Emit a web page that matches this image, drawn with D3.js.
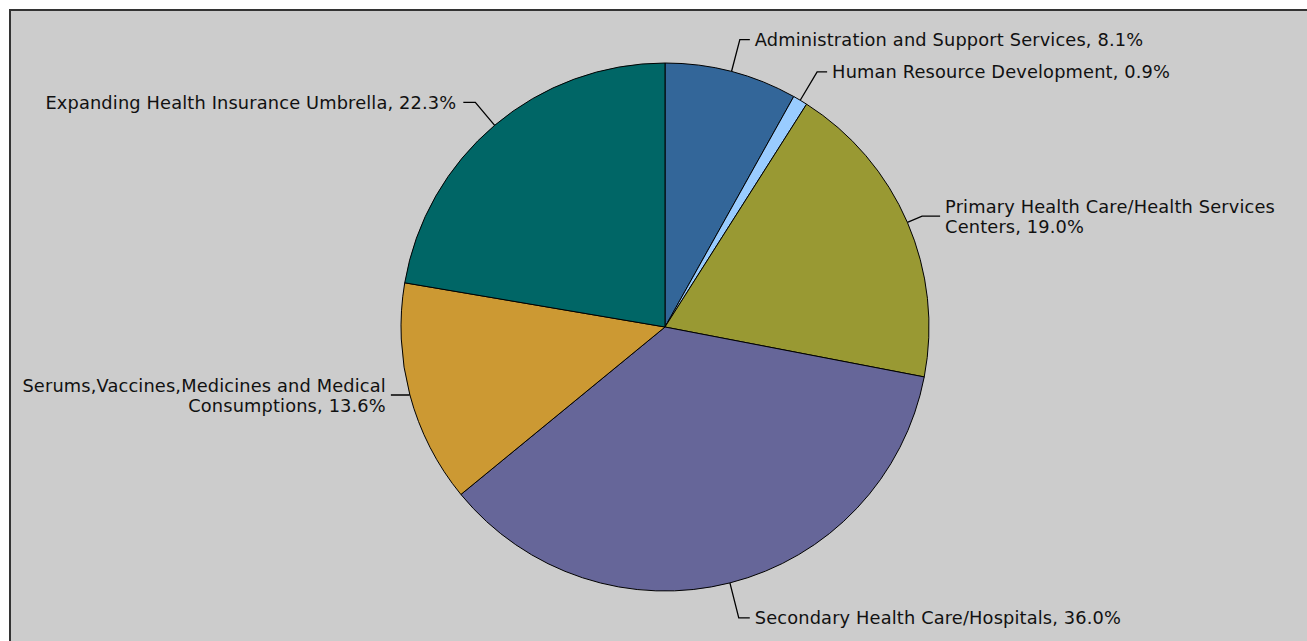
<!DOCTYPE html>
<html>
<head>
<meta charset="utf-8">
<script src="https://cdn.jsdelivr.net/npm/d3@7"></script>
<style>
  html, body { margin: 0; padding: 0; background: #ffffff; }
  svg { display: block; }
</style>
</head>
<body>
<svg id="chart" width="1307" height="641"></svg>
<script>
// ---- data ----
const categories = [
  "Administration and Support Services",
  "Human Resource Development",
  "Primary Health Care/Health Services Centers",
  "Secondary Health Care/Hospitals",
  "Serums,Vaccines,Medicines and Medical Consumptions",
  "Expanding Health Insurance Umbrella"
];
const values = [8.1, 0.9, 19.0, 36.0, 13.6, 22.3];
const colors = ["#336699", "#99ccff", "#999933", "#666699", "#cc9933", "#006666"];

// ---- label leader layout (style only) ----
const elbowExtra = [33, 33, 16, 36, 1, 30];
const hLen = [10, 10, 18, 11, 18, 12];
const gaps = [5, 5, 5, 5, 5, 7];

const W = 1307, H = 641;
const cx = 665, cy = 327, R = 264;
const fontSize = 17.8, lineH = 20, letterSp = 0.15;

const svg = d3.select("#chart");

svg.append("rect")
  .attr("x", 10).attr("y", 10)
  .attr("width", W + 10).attr("height", H + 10)
  .attr("fill", "#cccccc")
  .attr("stroke", "#333333")
  .attr("stroke-width", 2);

const data = categories.map((c, i) => ({ name: c, value: values[i], color: colors[i], i }));

const pie = d3.pie().sort(null).value(d => d.value);
const arcs = pie(data);
const arc = d3.arc().innerRadius(0).outerRadius(R);

const g = svg.append("g").attr("transform", `translate(${cx},${cy})`);

g.selectAll("path.slice")
  .data(arcs)
  .join("path")
  .attr("class", "slice")
  .attr("d", arc)
  .attr("fill", d => d.data.color)
  .attr("stroke", "#000")
  .attr("stroke-width", 1)
  .attr("stroke-linejoin", "round");

const labelsG = g.append("g");

// measure helper
const measure = svg.append("text")
  .attr("font-family", "DejaVu Sans")
  .attr("font-size", fontSize)
  .attr("letter-spacing", letterSp)
  .attr("visibility", "hidden");
function textW(s) { measure.text(s); return measure.node().getComputedTextLength(); }

function wrap(str, maxW) {
  const words = str.split(" ");
  const lines = [];
  let cur = "";
  words.forEach(w => {
    const t = cur ? cur + " " + w : w;
    if (cur && textW(t) > maxW) { lines.push(cur); cur = w; }
    else cur = t;
  });
  if (cur) lines.push(cur);
  return lines;
}

arcs.forEach((a, i) => {
  const mid = (a.startAngle + a.endAngle) / 2;
  const sx = Math.sin(mid), sy = -Math.cos(mid);
  const p0 = [R * sx, R * sy];
  const re = R + elbowExtra[i];
  const p1 = [re * sx, re * sy];
  const right = sx >= 0;
  const p2 = [p1[0] + (right ? hLen[i] : -hLen[i]), p1[1]];

  labelsG.append("polyline")
    .attr("points", [p0, p1, p2].map(p => p.join(",")).join(" "))
    .attr("fill", "none")
    .attr("stroke", "#000")
    .attr("stroke-width", 1.3);

  const tx = p2[0] + (right ? gaps[i] : -gaps[i]);
  const absX = cx + tx;
  const maxW = right ? (W - 20 - absX) : (absX - 18);
  const label = `${a.data.name}, ${a.data.value.toFixed(1)}%`;
  const lines = wrap(label, maxW);
  const n = lines.length;

  const t = labelsG.append("text")
    .attr("font-family", "DejaVu Sans")
    .attr("font-size", fontSize)
    .attr("letter-spacing", letterSp)
    .attr("fill", "#111")
    .attr("text-anchor", right ? "start" : "end");
  lines.forEach((ln, k) => {
    const yc = p1[1] - (lineH / 2) * (n - 1) + lineH * k + (n > 1 ? 1 : 0);
    t.append("tspan")
      .attr("x", tx)
      .attr("y", yc + 6.3)
      .text(ln);
  });
});
measure.remove();
</script>
</body>
</html>
